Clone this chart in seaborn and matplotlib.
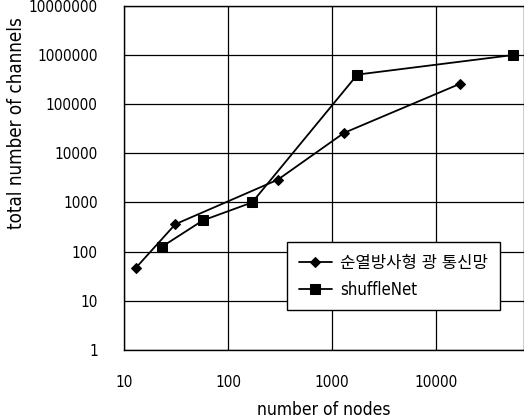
import matplotlib
matplotlib.use("Agg")
import matplotlib.pyplot as plt
import matplotlib.ticker as mticker
import seaborn as sns
import pandas as pd

# (log-log)
radial_nodes = [13, 31, 300, 1300, 17000]
radial_channels = [47, 360, 2900, 26000, 260000]
shuffle_nodes = [23, 57, 170, 1750, 55000]
shuffle_channels = [125, 430, 1000, 400000, 1000000]

radial_label = "순열방사형 광 통신망"
shuffle_label = "shuffleNet"
x_ticks = [10, 100, 1000, 10000]
y_ticks = [1, 10, 100, 1000, 10000, 100000, 1000000, 10000000]

sns.set_style("white")
plt.rcParams["font.family"] = ["DejaVu Sans", "Noto Sans CJK KR"]
plt.rcParams["font.stretch"] = "condensed"
plt.rcParams["text.color"] = "black"
plt.rcParams["axes.labelcolor"] = "black"

df_r = pd.DataFrame({"nodes": radial_nodes, "channels": radial_channels})
df_s = pd.DataFrame({"nodes": shuffle_nodes, "channels": shuffle_channels})

fig = plt.figure(figsize=(5.24, 4.20), dpi=100)
ax = fig.add_axes([0.237, 0.167, 0.763, 0.819])

sns.lineplot(data=df_r, x="nodes", y="channels", ax=ax, color="black", lw=1.3,
             marker="D", markersize=5.5, markeredgecolor="black", label=radial_label)
sns.lineplot(data=df_s, x="nodes", y="channels", ax=ax, color="black", lw=1.3,
             marker="s", markersize=6.5, markeredgecolor="black", label=shuffle_label)

ax.set_xscale("log")
ax.set_yscale("log")
ax.set_xlim(10, 70000)
ax.set_ylim(1, 10000000)
ax.set_xticks(x_ticks)
ax.set_yticks(y_ticks)
ax.xaxis.set_minor_locator(mticker.NullLocator())
ax.yaxis.set_minor_locator(mticker.NullLocator())
ax.xaxis.set_major_formatter(mticker.FuncFormatter(lambda v, p: f"{int(round(v))}"))
ax.yaxis.set_major_formatter(mticker.FuncFormatter(lambda v, p: f"{int(round(v))}"))
ax.tick_params(axis="both", length=0, labelsize=11, colors="black")
ax.tick_params(axis="x", pad=18)
ax.tick_params(axis="y", pad=19)
ax.grid(True, color="black", lw=0.9)
for s in ax.spines.values():
    s.set_color("black")
    s.set_linewidth(1.0)

ax.set_xlabel("number of nodes", fontsize=12.5, labelpad=8, color="black")
ax.set_ylabel("total number of channels", fontsize=13.5, color="black")
ax.yaxis.set_label_coords(-0.245, 0.66)

leg = ax.legend(loc="upper left", bbox_to_anchor=(0.4075, 0.314), borderaxespad=0,
                frameon=True, fancybox=False, framealpha=1, edgecolor="black",
                fontsize=12, handlelength=2.0, handletextpad=0.5,
                borderpad=0.7, labelspacing=0.55)
leg.get_frame().set_linewidth(1.0)
for t in leg.get_texts():
    t.set_color("black")

fig.savefig("out.png", dpi=100)
